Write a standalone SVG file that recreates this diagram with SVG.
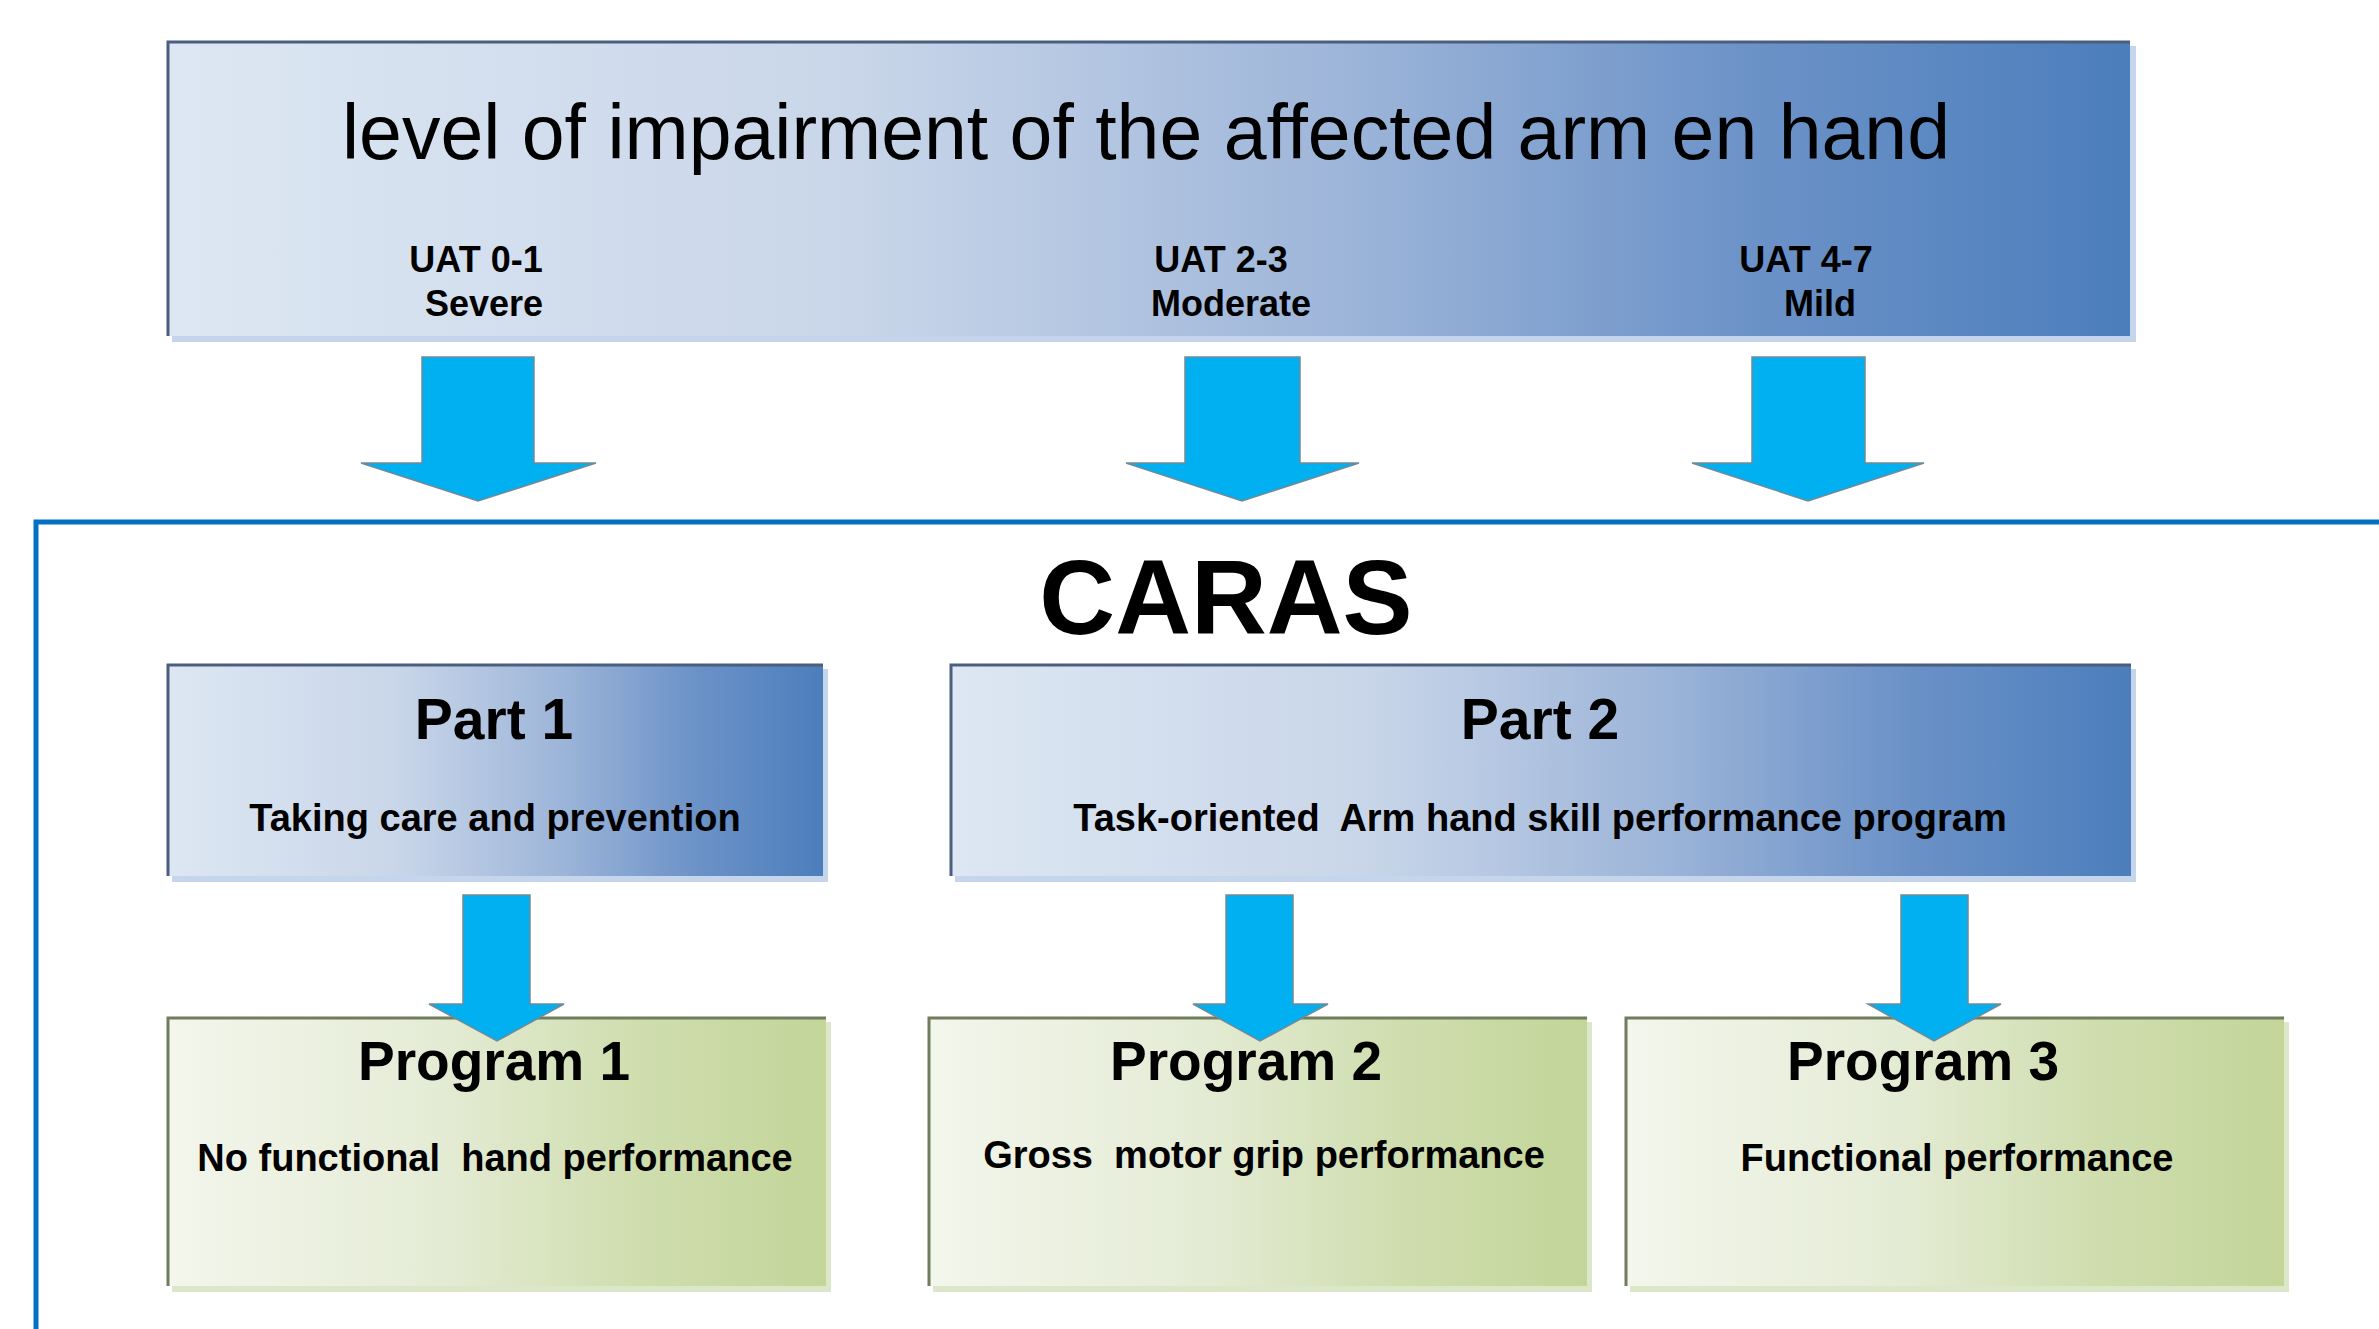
<svg xmlns="http://www.w3.org/2000/svg" width="2379" height="1329" viewBox="0 0 2379 1329">
  <defs>
    <linearGradient id="blueFill" x1="0" y1="0" x2="1" y2="0">
      <stop offset="0" stop-color="#dde7f3"/>
      <stop offset="0.35" stop-color="#c9d6e9"/>
      <stop offset="0.6" stop-color="#9db5d9"/>
      <stop offset="0.8" stop-color="#6d93c8"/>
      <stop offset="1" stop-color="#4c7ebc"/>
    </linearGradient>
    <linearGradient id="greenFill" x1="0" y1="0" x2="1" y2="0">
      <stop offset="0" stop-color="#f3f6ec"/>
      <stop offset="0.4" stop-color="#e5ecd6"/>
      <stop offset="0.7" stop-color="#d0deb0"/>
      <stop offset="1" stop-color="#c3d599"/>
    </linearGradient>
    <style>
      .sans { font-family: "Liberation Sans", Arial, sans-serif; fill: #000; }
      .title { font-size: 77px; }
      .uat { font-size: 36px; font-weight: bold; }
      .caras { font-size: 105px; font-weight: bold; }
      .head { font-size: 57px; font-weight: bold; }
      .prog { font-size: 55px; font-weight: bold; }
      .sub { font-size: 38px; font-weight: bold; }
      .blueBox { fill: url(#blueFill); }
      .greenBox { fill: url(#greenFill); }
      .blueShadow { fill: #c5d6ec; }
      .greenShadow { fill: #dce6c8; }
      .blueEdge { fill: none; stroke: #4a5f7e; stroke-width: 3; }
      .greenEdge { fill: none; stroke: #6f7d5c; stroke-width: 3; }
      .arrow { fill: #00b0f0; stroke: #6f8a99; stroke-width: 1.5; stroke-linejoin: miter; }
      .frame { fill: none; stroke: #0070c0; stroke-width: 5; }
    </style>
  </defs>

  <rect x="0" y="0" width="2379" height="1329" fill="#ffffff"/>

  <!-- CARAS frame: runs off the right and bottom edges -->
  <g id="caras-frame">
    <path class="frame" d="M36,1329 V522 H2379"/>
    <text class="sans caras" x="1226" y="634" text-anchor="middle">CARAS</text>
  </g>

  <!-- impairment level header -->
  <g id="impairment">
    <rect class="blueShadow" x="172" y="46" width="1964" height="296"/>
    <rect class="blueBox" x="168" y="42" width="1962" height="294"/>
    <path class="blueEdge" d="M168,336 V42 H2130"/>
    <text class="sans title" x="1146" y="159" text-anchor="middle">level of impairment of the affected arm en hand</text>
    <text class="sans uat" x="476" y="272" text-anchor="middle">UAT 0-1</text>
    <text class="sans uat" x="484" y="316" text-anchor="middle">Severe</text>
    <text class="sans uat" x="1221" y="272" text-anchor="middle">UAT 2-3</text>
    <text class="sans uat" x="1231" y="316" text-anchor="middle">Moderate</text>
    <text class="sans uat" x="1806" y="272" text-anchor="middle">UAT 4-7</text>
    <text class="sans uat" x="1820" y="316" text-anchor="middle">Mild</text>
  </g>

  <!-- Part 1 -->
  <g id="part1">
    <rect class="blueShadow" x="172" y="669" width="656" height="213"/>
    <rect class="blueBox" x="168" y="665" width="655" height="211"/>
    <path class="blueEdge" d="M168,876 V665 H823"/>
    <text class="sans head" x="494" y="739" text-anchor="middle">Part 1</text>
    <text class="sans sub" x="495" y="831" text-anchor="middle">Taking care and prevention</text>
  </g>

  <!-- Part 2 -->
  <g id="part2">
    <rect class="blueShadow" x="955" y="669" width="1181" height="213"/>
    <rect class="blueBox" x="951" y="665" width="1180" height="211"/>
    <path class="blueEdge" d="M951,876 V665 H2131"/>
    <text class="sans head" x="1540" y="739" text-anchor="middle">Part 2</text>
    <text class="sans sub" x="1540" y="831" text-anchor="middle" xml:space="preserve">Task-oriented  Arm hand skill performance program</text>
  </g>

  <!-- Program 1 -->
  <g id="program1">
    <rect class="greenShadow" x="172" y="1022" width="659" height="270"/>
    <rect class="greenBox" x="168" y="1018" width="658" height="268"/>
    <path class="greenEdge" d="M168,1286 V1018 H826"/>
    <text class="sans prog" x="494" y="1080" text-anchor="middle">Program 1</text>
    <text class="sans sub" x="495" y="1171" text-anchor="middle" xml:space="preserve">No functional  hand performance</text>
  </g>

  <!-- Program 2 -->
  <g id="program2">
    <rect class="greenShadow" x="933" y="1022" width="659" height="270"/>
    <rect class="greenBox" x="929" y="1018" width="658" height="268"/>
    <path class="greenEdge" d="M929,1286 V1018 H1587"/>
    <text class="sans prog" x="1246" y="1080" text-anchor="middle">Program 2</text>
    <text class="sans sub" x="1264" y="1168" text-anchor="middle" xml:space="preserve">Gross  motor grip performance</text>
  </g>

  <!-- Program 3 -->
  <g id="program3">
    <rect class="greenShadow" x="1630" y="1022" width="659" height="270"/>
    <rect class="greenBox" x="1626" y="1018" width="658" height="268"/>
    <path class="greenEdge" d="M1626,1286 V1018 H2284"/>
    <text class="sans prog" x="1923" y="1080" text-anchor="middle">Program 3</text>
    <text class="sans sub" x="1957" y="1171" text-anchor="middle">Functional performance</text>
  </g>

  <!-- block arrows between levels -->
  <g id="connectors">
    <path class="arrow" d="M422,357 H534 V463 H596 L478,501 L361,463 H422 Z"/>
    <path class="arrow" d="M1185,357 H1300 V463 H1359 L1242,501 L1126,463 H1185 Z"/>
    <path class="arrow" d="M1752,357 H1865 V463 H1924 L1808,501 L1692,463 H1752 Z"/>
    <path class="arrow" d="M463,895 H530 V1004 H564 L497,1041 L429,1004 H463 Z"/>
    <path class="arrow" d="M1226,895 H1293 V1004 H1328 L1260,1041 L1193,1004 H1226 Z"/>
    <path class="arrow" d="M1901,895 H1968 V1004 H2001 L1934,1041 L1868,1004 H1901 Z"/>
  </g>
</svg>
